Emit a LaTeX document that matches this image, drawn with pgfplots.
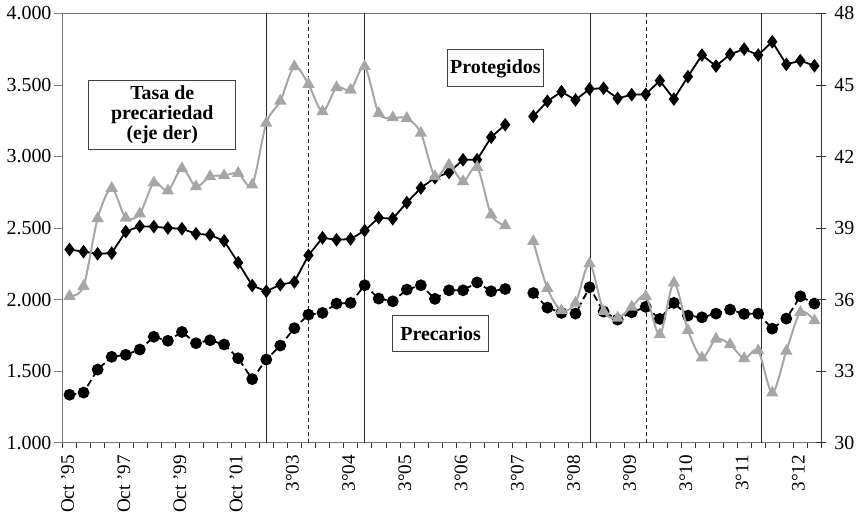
\documentclass[border=0pt]{standalone}
\usepackage{fontspec}
\setmainfont{Liberation Serif}
\usepackage{pgfplots}
\usepackage{pgfplotstable}
\pgfplotsset{compat=1.18}
\definecolor{tgray}{RGB}{166,166,166}
\pgfplotstableread{
x y
0 2350
1 2335
2 2320
3 2325
4 2475
5 2512
6 2510
7 2500
8 2495
9 2460
10 2452
11 2410
12 2258
13 2098
14 2058
15 2104
16 2123
17 2309
18 2432
19 2418
20 2423
21 2482
22 2572
23 2565
24 2678
25 2780
26 2852
27 2888
28 2977
29 2977
30 3135
31 3222
}\protA
\pgfplotstableread{
x y
33 3280
34 3386
35 3453
36 3395
37 3472
38 3477
39 3406
40 3432
41 3435
42 3530
43 3402
44 3558
45 3709
46 3632
47 3714
48 3751
49 3709
50 3802
51 3644
52 3670
53 3634
}\protB
\pgfplotstableread{
x y
0 1335
1 1350
2 1511
3 1600
4 1614
5 1651
6 1740
7 1712
8 1774
9 1695
10 1716
11 1686
12 1590
13 1444
14 1581
15 1679
16 1800
17 1895
18 1907
19 1972
20 1977
21 2100
22 2007
23 1988
24 2070
25 2100
26 2005
27 2065
28 2065
29 2120
30 2058
31 2074
}\precA
\pgfplotstableread{
x y
33 2046
34 1944
35 1907
36 1902
37 2086
38 1916
39 1860
40 1911
41 1949
42 1865
43 1977
44 1888
45 1876
46 1902
47 1930
48 1900
49 1902
50 1797
51 1867
52 2023
53 1972
}\precB
\pgfplotstableread{
x y
0 36.14
1 36.56
2 39.40
3 40.67
4 39.42
5 39.60
6 40.90
7 40.56
8 41.50
9 40.74
10 41.16
11 41.20
12 41.30
13 40.81
14 43.40
15 44.33
16 45.77
17 45.03
18 43.88
19 44.89
20 44.79
21 45.77
22 43.81
23 43.63
24 43.60
25 42.98
26 41.16
27 41.65
28 40.95
29 41.55
30 39.56
31 39.10
}\tasaA
\pgfplotstableread{
x y
33 38.44
34 36.47
35 35.54
36 35.86
37 37.51
38 35.51
39 35.23
40 35.69
41 36.14
42 34.53
43 36.70
44 34.71
45 33.56
46 34.35
47 34.12
48 33.53
49 33.86
50 32.09
51 33.84
52 35.47
53 35.12
}\tasaB
\begin{document}
\begin{tikzpicture}
\begin{axis}[name=ax, scale only axis, width=381pt, height=215.5pt,
  xmin=-0.5, xmax=53.5, ymin=1000, ymax=4000,
  axis line style={black!55},
  xtick={0,4,...,52},
  xticklabels={{Oct '95},{Oct '97},{Oct '99},{Oct '01},{3\textdegree{}03},{3\textdegree{}04},{3\textdegree{}05},{3\textdegree{}06},{3\textdegree{}07},{3\textdegree{}08},{3\textdegree{}09},{3\textdegree{}10},{3\textdegree{}11},{3\textdegree{}12}},
  minor xtick={-0.5,0.5,...,53.5},
  major x tick style={draw=none},
  minor x tick style={black!80},
  minor tick length=2.8pt,
  major tick length=4.5pt,
  tick align=outside,
  xtick pos=left, ytick pos=left,
  ytick={1000,1500,...,4000},
  yticklabels={1.000,1.500,2.000,2.500,3.000,3.500,4.000},
  scaled y ticks=false,
  tick label style={font=\normalsize},
  xticklabel style={rotate=90, anchor=east, yshift=1pt, inner sep=1.5pt, font=\fontsize{9.6}{11}\selectfont},
  yticklabel style={xshift=2.5pt},
  clip=false,
]
\addplot[black!85, line width=0.5pt, forget plot] coordinates {(14,1000) (14,4000)};
\addplot[black!85, line width=0.5pt, dash pattern=on 2pt off 1.5pt, forget plot] coordinates {(17,1000) (17,4000)};
\addplot[black!85, line width=0.5pt, forget plot] coordinates {(21,1000) (21,4000)};
\addplot[black!85, line width=0.5pt, forget plot] coordinates {(37.05,1000) (37.05,4000)};
\addplot[black!85, line width=0.5pt, dash pattern=on 2pt off 1.5pt, forget plot] coordinates {(41.05,1000) (41.05,4000)};
\addplot[black!85, line width=0.5pt, forget plot] coordinates {(49.2,1000) (49.2,4000)};

\addplot[black, line width=0.9pt, mark=diamond*, mark size=2.7pt, mark options={solid}] table {\protA};
\addplot[black, line width=0.9pt, mark=diamond*, mark size=2.7pt, mark options={solid}] table {\protB};
\addplot[black, line width=0.9pt, dash pattern=on 3.5pt off 2pt, mark=*, mark size=2.5pt, mark options={solid}] table {\precA};
\addplot[black, line width=0.9pt, dash pattern=on 3.5pt off 2pt, mark=*, mark size=2.5pt, mark options={solid}] table {\precB};

\node[draw=black!75, fill=white, line width=0.5pt, align=center, minimum width=74pt, minimum height=35pt, inner sep=1pt, font=\bfseries] at (axis cs:6.6,3290) {Tasa de\\[-2pt]precariedad\\[-2pt](eje der)};
\node[draw=black!75, fill=white, line width=0.5pt, minimum width=48.5pt, minimum height=18.5pt, inner sep=1pt, font=\bfseries] at (axis cs:30.3,3616) {Protegidos};
\node[draw=black!75, fill=white, line width=0.5pt, minimum width=48.5pt, minimum height=18.3pt, inner sep=1pt, font=\bfseries] at (axis cs:26.4,1762) {Precarios};
\end{axis}
\begin{axis}[scale only axis, width=381pt, height=215.5pt,
  xmin=-0.5, xmax=53.5, ymin=30, ymax=48,
  axis y line*=right, axis x line=none,
  axis line style={black!80},
  y axis line style={-},
  ytick={30,33,...,48},
  tick align=center, major tick length=5pt,
  tick style={black!80},
  tick label style={font=\normalsize},
  yticklabel style={xshift=0.5pt},
  /pgf/number format/assume math mode=true,
]
\addplot[tgray, line width=1pt, smooth, tension=0.5, mark=triangle*, mark size=2.6pt, mark options={tgray}] table {\tasaA};
\addplot[tgray, line width=1pt, smooth, tension=0.5, mark=triangle*, mark size=2.6pt, mark options={tgray}] table {\tasaB};
\end{axis}
\path (ax.south west) ++(-31pt,-34pt) coordinate (bbA);
\path (ax.north east) ++(18.5pt,6.5pt) coordinate (bbB);
\path (bbA) rectangle (bbB);
\end{tikzpicture}
\end{document}
